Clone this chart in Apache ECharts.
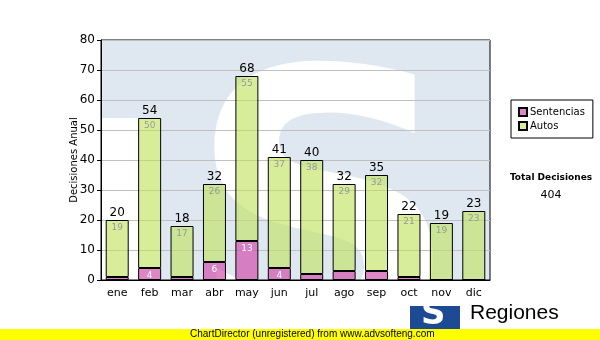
<!DOCTYPE html>
<html>
<head>
<meta charset="utf-8">
<script src="https://cdn.jsdelivr.net/npm/echarts@6/dist/echarts.min.js"></script>
<style>
  html, body { margin: 0; padding: 0; background: #fff; }
  #chart { width: 600px; height: 340px; }
</style>
</head>
<body>
<div id="chart"></div>
<script>
// Monthly decisions, split by type
var months = ['ene', 'feb', 'mar', 'abr', 'may', 'jun', 'jul', 'ago', 'sep', 'oct', 'nov', 'dic'];
var sentencias = [1, 4, 1, 6, 13, 4, 2, 3, 3, 1, 0, 0];
var autos = [19, 50, 17, 26, 55, 37, 38, 29, 32, 21, 19, 23];
var yTicks = [0, 10, 20, 30, 40, 50, 60, 70, 80];

var totals = months.map(function (m, i) { return sentencias[i] + autos[i]; });
var grandTotal = totals.reduce(function (a, b) { return a + b; }, 0);

var FONT = 'DejaVu Sans';
var chart = echarts.init(document.getElementById('chart'), null, { renderer: 'canvas' });

var plot = { x: 101, y: 40, w: 389, h: 240 };

chart.setOption({
  animation: false,
  backgroundColor: '#ffffff',
  textStyle: { fontFamily: FONT },
  grid: {
    left: plot.x, top: plot.y, width: plot.w, height: plot.h,
    show: true, backgroundColor: 'transparent', borderColor: '#000', borderWidth: 1
  },
  legend: {
    data: ['Sentencias', 'Autos'],
    orient: 'vertical',
    left: 511, top: 100,
    padding: [7, 8, 7, 7],
    borderColor: '#000', borderWidth: 1, borderRadius: 0,
    itemWidth: 8, itemHeight: 8, itemGap: 4,
    icon: 'rect',
    textStyle: { fontFamily: FONT, fontSize: 10, color: '#000', padding: [0, 0, 0, -2] }
  },
  xAxis: {
    type: 'category',
    data: months,
    axisLine: { lineStyle: { color: '#000', width: 1 } },
    axisTick: { alignWithLabel: true, length: 3, lineStyle: { color: '#000' } },
    axisLabel: { color: '#000', fontFamily: FONT, fontSize: 11, margin: 8 }
  },
  yAxis: {
    type: 'value',
    min: yTicks[0], max: yTicks[yTicks.length - 1], interval: 10,
    name: 'Decisiones Anual',
    nameLocation: 'middle', nameGap: 22, nameRotate: 90, nameMoveOverlap: false,
    nameTextStyle: { color: '#000', fontFamily: FONT, fontSize: 10 },
    axisLine: { show: true, lineStyle: { color: '#000', width: 1 } },
    axisTick: { show: true, length: 4, lineStyle: { color: '#000' } },
    axisLabel: { color: '#000', fontFamily: FONT, fontSize: 12, margin: 6 },
    splitLine: { lineStyle: { color: '#c0c0c0', width: 1 } }
  },
  series: [
    {
      name: 'Sentencias', type: 'bar', stack: 'total', barWidth: 23,
      data: sentencias,
      itemStyle: { color: 'rgba(208,72,170,0.66)', borderColor: '#000', borderWidth: 1 },
      label: {
        show: true, position: 'insideTop', distance: 3,
        color: '#fff', fontFamily: FONT, fontSize: 9,
        formatter: function (p) { return p.value >= 4 ? String(p.value) : ''; }
      }
    },
    {
      name: 'Autos', type: 'bar', stack: 'total', barWidth: 23,
      data: autos,
      itemStyle: { color: 'rgba(190,226,92,0.62)', borderColor: '#000', borderWidth: 1 },
      label: {
        show: true, position: 'insideTop', distance: 3,
        color: '#999', fontFamily: FONT, fontSize: 9
      }
    },
    {
      name: 'Total', type: 'bar', stack: 'total', barWidth: 23,
      data: totals.map(function () { return 0; }),
      itemStyle: { color: 'transparent', borderWidth: 0 },
      label: {
        show: true, position: 'top', distance: 1,
        color: '#000', fontFamily: FONT, fontSize: 12,
        formatter: function (p) { return String(totals[p.dataIndex]); }
      },
      silent: true
    }
  ],
  graphic: [
    // pale logo watermark behind the plot
    { type: 'rect', z: -10, shape: { x: plot.x, y: plot.y, width: plot.w, height: plot.h },
      style: { fill: '#dfe8f1' } },
    { type: 'rect', z: -9, shape: { x: plot.x, y: 118, width: 60, height: 162 },
      style: { fill: '#ffffff' } },
    { type: 'text', z: -8, left: 187, top: 54,
      style: { text: 'S', fill: '#ffffff', font: 'bold 380px "DejaVu Sans"' } },
    // mask the part of the watermark that runs below the plot
    { type: 'rect', z: -7, shape: { x: 0, y: plot.y + plot.h + 1, width: 600, height: 60 },
      style: { fill: '#ffffff' } },

    // summary at the right
    { type: 'text', x: 551, y: 173,
      style: { text: 'Total Decisiones', fill: '#000', font: 'bold 9px "DejaVu Sans"', textAlign: 'center' } },
    { type: 'text', x: 551, y: 190,
      style: { text: String(grandTotal), fill: '#000', font: '11px "DejaVu Sans"', textAlign: 'center' } },

    // footer logo
    { type: 'rect', shape: { x: 410, y: 306, width: 50, height: 24 }, style: { fill: '#1c4b94' } },
    { type: 'text', left: 421, top: 298,
      style: { text: 'S', fill: '#ffffff', font: 'bold 34px "DejaVu Sans"' } },
    { type: 'text', left: 470, top: 303,
      style: { text: 'Regiones', fill: '#000', font: '21px "Liberation Sans"' } },

    // footer strip
    { type: 'rect', shape: { x: 0, y: 329, width: 600, height: 11 }, style: { fill: '#ffff00' } },
    { type: 'text', left: 190, top: 329,
      style: { text: 'ChartDirector (unregistered) from www.advsofteng.com', fill: '#000', font: '10px "Liberation Sans"' } }
  ]
});
</script>
</body>
</html>
